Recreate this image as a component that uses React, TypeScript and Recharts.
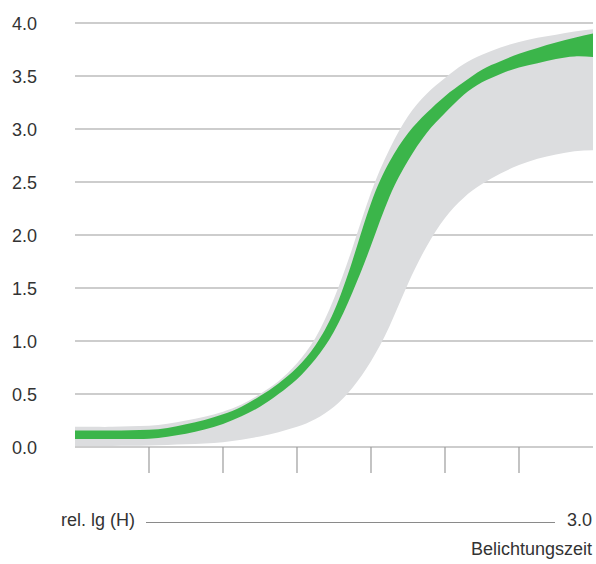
import React from "react";
import { ComposedChart, Area, XAxis, YAxis, CartesianGrid } from "recharts";

// x positions in axis units (7 equal intervals across rel. lg (H)), sampled every 0.25
const xs = [0, 0.25, 0.5, 0.75, 1, 1.25, 1.5, 1.75, 2, 2.25, 2.5, 2.75, 3, 3.25, 3.5, 3.75, 4, 4.25, 4.5, 4.75, 5, 5.25, 5.5, 5.75, 6, 6.25, 6.5, 6.75, 7];
// grey tolerance band
const greyLow = [0.01, 0.01, 0.01, 0.012, 0.015, 0.02, 0.025, 0.033, 0.045, 0.068, 0.1, 0.14, 0.19, 0.265, 0.38, 0.56, 0.81, 1.14, 1.54, 1.89, 2.16, 2.35, 2.48, 2.58, 2.66, 2.72, 2.76, 2.79, 2.8];
const greyHigh = [0.19, 0.19, 0.19, 0.195, 0.2, 0.22, 0.25, 0.285, 0.333, 0.4, 0.5, 0.62, 0.79, 1.03, 1.4, 1.88, 2.4, 2.81, 3.12, 3.33, 3.48, 3.61, 3.7, 3.77, 3.82, 3.86, 3.89, 3.92, 3.94];
// green band
const greenLow = [0.075, 0.075, 0.075, 0.076, 0.078, 0.097, 0.125, 0.165, 0.217, 0.29, 0.38, 0.5, 0.64, 0.83, 1.09, 1.46, 1.9, 2.36, 2.7, 2.96, 3.15, 3.32, 3.44, 3.52, 3.58, 3.62, 3.66, 3.685, 3.68];
const greenHigh = [0.155, 0.155, 0.155, 0.157, 0.162, 0.18, 0.215, 0.255, 0.308, 0.38, 0.48, 0.6, 0.75, 0.96, 1.28, 1.76, 2.3, 2.69, 2.96, 3.15, 3.31, 3.44, 3.56, 3.64, 3.71, 3.765, 3.815, 3.86, 3.9];

const yTicks = [0, 0.5, 1, 1.5, 2, 2.5, 3, 3.5, 4];
const xTicks = [1, 2, 3, 4, 5, 6];

const axisLabel = "rel. lg (H)";
const axisEnd = "3.0";
const axisTitle = "Belichtungszeit";

const data = xs.map((x, i) => ({
  x,
  grey: [greyLow[i], greyHigh[i]],
  green: [greenLow[i], greenHigh[i]],
}));

const FONT = "'Liberation Sans', Arial, sans-serif";
const TEXT = "#333333";
const GRID = "#9c9c9c";

const YTick = (props: any) => {
  const { y, payload } = props;
  return (
    <text x={12} y={y + 6.5} textAnchor="start" fontSize={18} fontFamily={FONT} fill={TEXT}>
      {Number(payload.value).toFixed(1)}
    </text>
  );
};

const EmptyTick = () => <g />;

export default function App() {
  return (
    <div style={{ position: "absolute", left: 0, top: 0, width: 596, height: 564, background: "#fff" }}>
      <ComposedChart
        width={596}
        height={564}
        data={data}
        margin={{ top: 23, right: 3, bottom: 87, left: 0 }}
      >
        <CartesianGrid vertical={false} stroke={GRID} strokeWidth={1.2} />
        <XAxis
          type="number"
          dataKey="x"
          domain={[0, 7]}
          ticks={xTicks}
          height={30}
          axisLine={false}
          tickLine={{ stroke: GRID, strokeWidth: 1.2 }}
          tickSize={26}
          tick={<EmptyTick />}
        />
        <YAxis
          type="number"
          domain={[0, 4]}
          ticks={yTicks}
          width={75}
          axisLine={false}
          tickLine={false}
          tick={<YTick />}
        />
        <Area
          type="natural"
          dataKey="grey"
          stroke="none"
          fill="#dcdddf"
          fillOpacity={1}
          isAnimationActive={false}
        />
        <Area
          type="natural"
          dataKey="green"
          stroke="none"
          fill="#3bb54a"
          fillOpacity={1}
          isAnimationActive={false}
        />
      </ComposedChart>
      <svg
        width={596}
        height={564}
        style={{ position: "absolute", left: 0, top: 0, pointerEvents: "none" }}
      >
        <text x={61} y={526} fontSize={18} fontFamily={FONT} fill={TEXT}>
          {axisLabel}
        </text>
        <line x1={146} y1={522.5} x2={555} y2={522.5} stroke="#8a8a8a" strokeWidth={1.2} />
        <text x={592} y={526} textAnchor="end" fontSize={18} fontFamily={FONT} fill={TEXT}>
          {axisEnd}
        </text>
        <text x={592} y={555} textAnchor="end" fontSize={18} fontFamily={FONT} fill={TEXT}>
          {axisTitle}
        </text>
      </svg>
    </div>
  );
}
